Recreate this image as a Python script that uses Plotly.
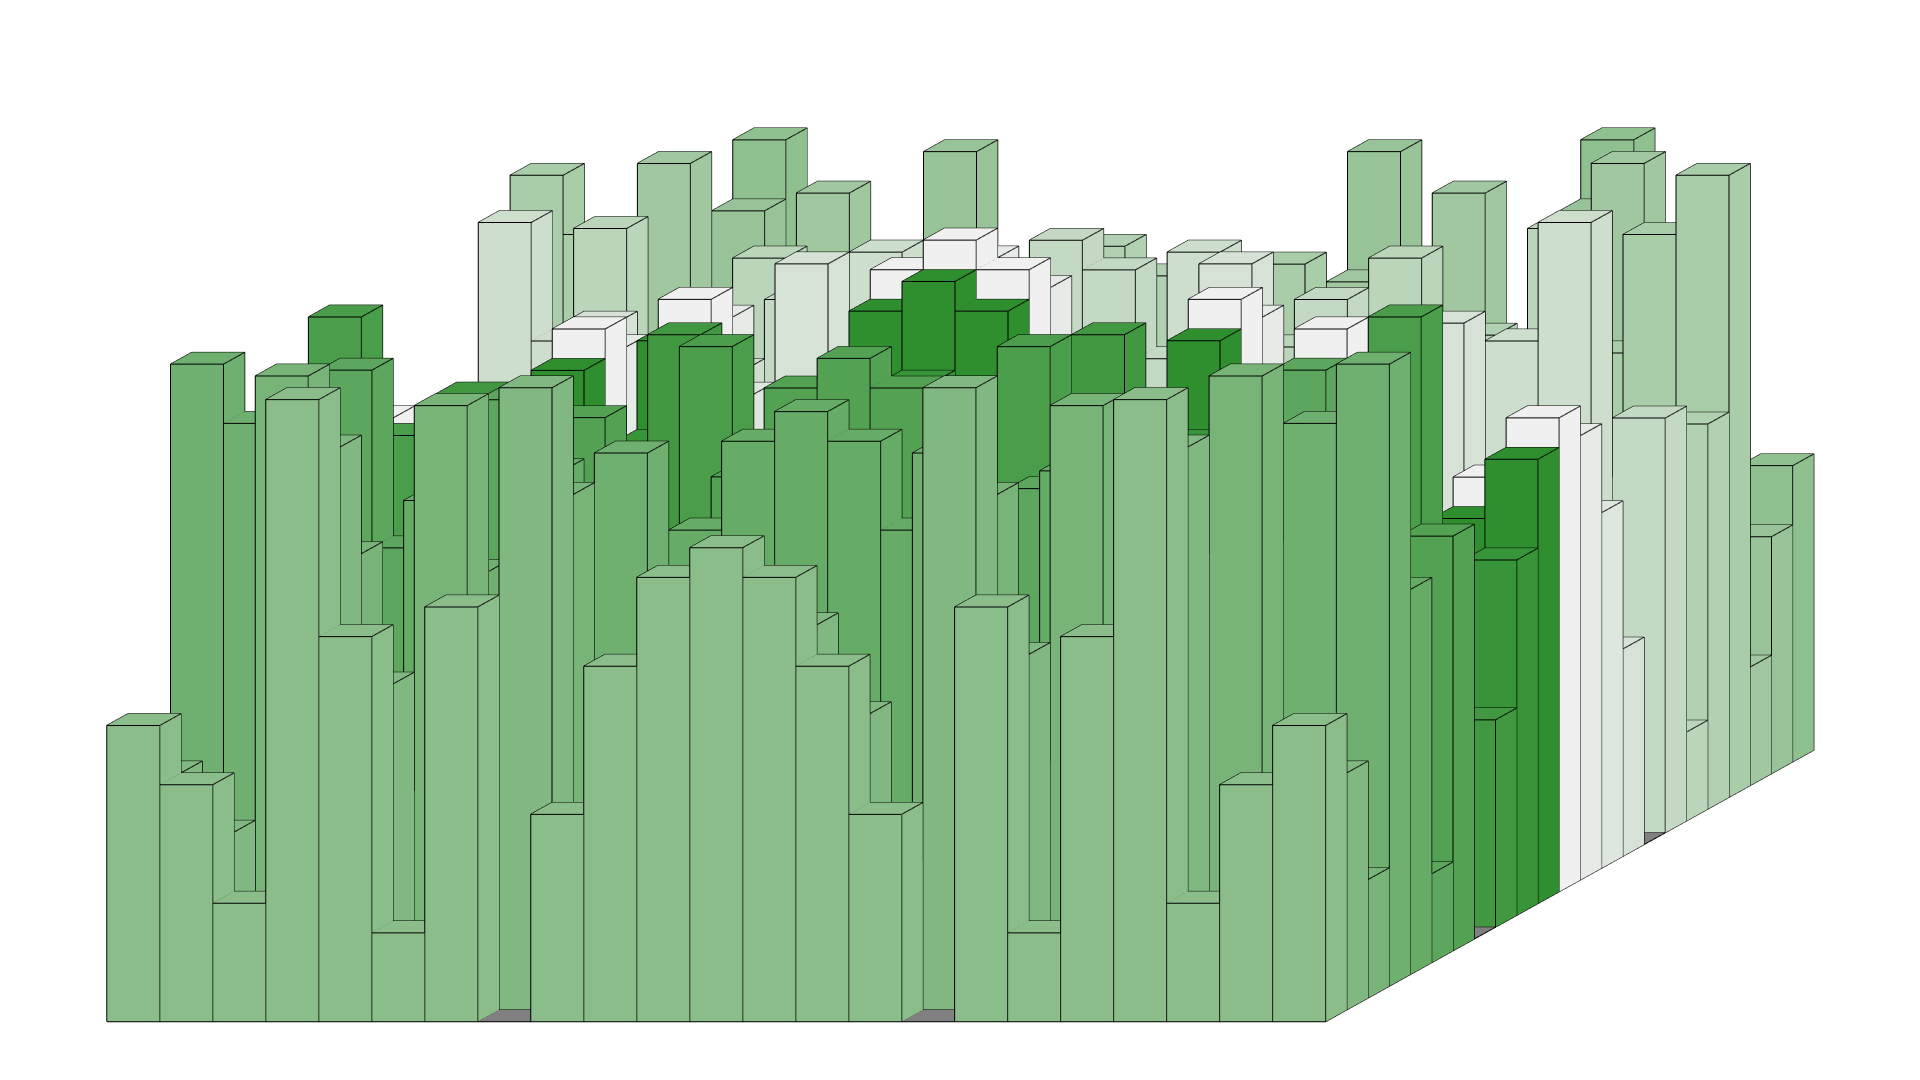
import plotly.graph_objects as go

# Bar heights in level units, one list per depth row, front row first
row_01 = [10,8,4,21,13,3,14,0,7,12,15,16,15,12,7,0,14,3,13,21,4,8,10]
row_02 = [8,6,2,19,11,1,12,21,5,10,13,14,13,10,5,21,12,1,11,19,2,6,8]
row_03 = [4,2,21,15,7,20,8,17,1,6,9,10,9,6,1,17,8,20,7,15,21,2,4]
row_04 = [21,19,15,9,1,14,2,11,18,0,3,4,3,0,18,11,2,14,1,9,15,19,21]
row_05 = [13,11,7,1,16,6,17,3,10,15,18,19,18,15,10,3,17,6,16,1,7,11,13]
row_06 = [3,1,20,14,6,19,7,16,0,5,8,9,8,5,0,16,7,19,6,14,20,1,3]
row_07 = [14,12,8,2,17,7,18,4,11,16,19,20,19,16,11,4,18,7,17,2,8,12,14]
row_08 = [0,21,17,11,3,16,4,13,20,2,5,6,5,2,20,13,4,16,3,11,17,21,0]
row_09 = [7,5,1,18,10,0,11,20,4,9,12,13,12,9,4,20,11,0,10,18,1,5,7]
row_10 = [12,10,6,0,15,5,16,2,9,14,17,18,17,14,9,2,16,5,15,0,6,10,12]
row_11 = [15,13,9,3,18,8,19,5,12,17,20,21,20,17,12,5,19,8,18,3,9,13,15]
row_12 = [16,14,10,4,19,9,20,6,13,18,21,22,21,18,13,6,20,9,19,4,10,14,16]
row_13 = [15,13,9,3,18,8,19,5,12,17,20,21,20,17,12,5,19,8,18,3,9,13,15]
row_14 = [12,10,6,0,15,5,16,2,9,14,17,18,17,14,9,2,16,5,15,0,6,10,12]
row_15 = [7,5,1,18,10,0,11,20,4,9,12,13,12,9,4,20,11,0,10,18,1,5,7]
row_16 = [0,21,17,11,3,16,4,13,20,2,5,6,5,2,20,13,4,16,3,11,17,21,0]
row_17 = [14,12,8,2,17,7,18,4,11,16,19,20,19,16,11,4,18,7,17,2,8,12,14]
row_18 = [3,1,20,14,6,19,7,16,0,5,8,9,8,5,0,16,7,19,6,14,20,1,3]
row_19 = [13,11,7,1,16,6,17,3,10,15,18,19,18,15,10,3,17,6,16,1,7,11,13]
row_20 = [21,19,15,9,1,14,2,11,18,0,3,4,3,0,18,11,2,14,1,9,15,19,21]
row_21 = [4,2,21,15,7,20,8,17,1,6,9,10,9,6,1,17,8,20,7,15,21,2,4]
row_22 = [8,6,2,19,11,1,12,21,5,10,13,14,13,10,5,21,12,1,11,19,2,6,8]
row_23 = [10,8,4,21,13,3,14,0,7,12,15,16,15,12,7,0,14,3,13,21,4,8,10]
heights = [row_01,row_02,row_03,row_04,row_05,row_06,row_07,row_08,row_09,row_10,row_11,row_12,
           row_13,row_14,row_15,row_16,row_17,row_18,row_19,row_20,row_21,row_22,row_23]

# Face colour of each depth row, front row first
row_colors = ["#8abd8a","#81b881","#78b478","#6faf6f","#66ab66","#5da65d","#53a153","#4a9d4a","#419841",
              "#389438","#2f8f2f","#f0f0f0","#e7ebe7","#dee7de","#d6e2d6","#cddecd","#c4d9c4","#bbd5bb",
              "#b2d0b2","#a9cca9","#a0c7a0","#98c398","#8fc08f"]
zero_color = "#808080"

SHEAR_X = 0.4006   # sideways offset per depth unit
SHEAR_Z = 0.3986   # upward offset per depth unit
EYE = 2.0

def project(c, r, h):
    return c + SHEAR_X * r, r, h + SHEAR_Z * r

vx, vy, vz, ii, jj, kk, fc = [], [], [], [], [], [], []
lx, ly, lz = [], [], []

def quad(p, color):
    n = len(vx)
    for q in p:
        a, b, d = project(*q)
        vx.append(a); vy.append(b); vz.append(d)
    ii.extend([n, n]); jj.extend([n + 1, n + 2]); kk.extend([n + 2, n + 3])
    fc.extend([color, color])
    for q in list(p) + [p[0]]:
        a, b, d = project(*q)
        lx.append(a); ly.append(b); lz.append(d)
    lx.append(None); ly.append(None); lz.append(None)

for r in range(23):
    for c in range(23):
        h = heights[r][c]
        col = row_colors[r] if h > 0 else zero_color
        quad([(c, r, h), (c + 1, r, h), (c + 1, r + 1, h), (c, r + 1, h)], col)
        if h > 0:
            quad([(c, r, 0), (c + 1, r, 0), (c + 1, r, h), (c, r, h)], col)
            quad([(c + 1, r, 0), (c + 1, r + 1, 0), (c + 1, r + 1, h), (c + 1, r, h)], col)

mesh = go.Mesh3d(x=vx, y=vy, z=vz, i=ii, j=jj, k=kk, facecolor=fc, flatshading=True, hoverinfo="skip",
                 lighting=dict(ambient=1, diffuse=0, specular=0, fresnel=0, roughness=1))
edges = go.Scatter3d(x=lx, y=ly, z=lz, mode="lines", line=dict(color="black", width=2), hoverinfo="skip",
                     showlegend=False)
fig = go.Figure([mesh, edges])
hidden = dict(visible=False)
fig.update_layout(
    width=1920, height=1080, margin=dict(l=0, r=0, t=0, b=0), paper_bgcolor="white", showlegend=False,
    scene=dict(
        domain=dict(x=[0, 1], y=[0, 1]),
        xaxis=dict(range=[-0.1, 32.3], **hidden),
        yaxis=dict(range=[-0.5, 23.5], **hidden),
        zaxis=dict(range=[0, 32.52], **hidden),
        aspectmode="manual", aspectratio=dict(x=3.1796, y=0.5, z=1.784),
        camera=dict(projection=dict(type="orthographic"), eye=dict(x=0, y=-EYE, z=0),
                    up=dict(x=0, y=0, z=1), center=dict(x=0, y=0, z=0)),
    ),
)
fig.write_html("out.html", post_script="document.body.style.margin='0';", config=dict(displayModeBar=False))
